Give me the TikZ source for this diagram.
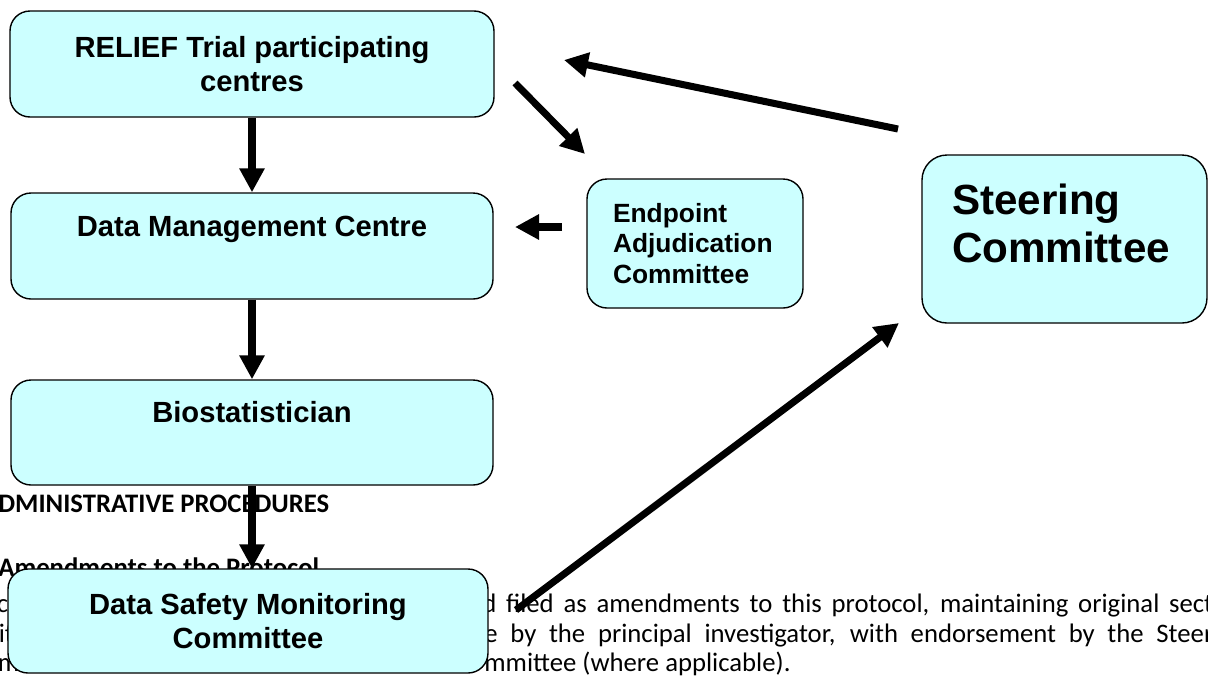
\documentclass[tikz,border=0pt]{standalone}
\usepackage{fontspec}
\setmainfont{Carlito}
\newfontfamily\boxfont{Liberation Sans}
\usetikzlibrary{arrows.meta}
\definecolor{boxcyan}{RGB}{204,255,255}

\begin{document}
\begin{tikzpicture}[
    box/.style={draw=black, line width=0.8pt, fill=boxcyan, rounded corners=0.4cm,
        inner sep=0pt, font=\boxfont\bfseries\fontsize{16.6}{19.4}\selectfont},
    flow/.style={line width=4pt, -{Triangle[length=0.48cm,width=0.48cm]}},
    doc/.style={inner sep=0pt, anchor=base west, font=\fontsize{15.2}{17}\selectfont}]
    %
    \useasboundingbox (0,0) rectangle (24.16,-13.5);
    \clip (0,0) rectangle (24.16,-13.5);
    %
    % page text behind the chart
    \node[doc, font=\bfseries\fontsize{15.2}{17}\selectfont] (tHeadA) at (-0.04,-10.25) {DMINISTRATIVE PROCEDURES};
    \node[doc, font=\bfseries\fontsize{15.2}{17}\selectfont] (tHeadB) at (-0.04,-11.52) {Amendments to the Protocol};
    \node[doc] (tLeftA) at (-0.07,-12.24) {c};
    \node[doc] (tLeftB) at (-0.03,-12.84) {it};
    \node[doc] (tLeftC) at (-0.05,-13.42) {m};
    \node[doc] (tLineA) at (9.64,-12.24) {\makebox[14.62cm][s]{d filed as amendments to this protocol, maintaining original sect}};
    \node[doc] (tLineB) at (9.68,-12.84) {\makebox[14.58cm][s]{e by the principal investigator, with endorsement by the Steer}};
    \node[doc] (tLineC) at (9.68,-13.42) {mmittee (where applicable).};
    %
    % boxes
    \node[box, minimum width=9.68cm, minimum height=2.12cm, align=center] (nRelief) at (5.04,-1.28)
        {RELIEF Trial participating\\centres};
    \node[box, minimum width=9.64cm, text height=0.87cm, text depth=1.25cm] (nDmc) at (5.04,-4.92)
        {Data Management Centre};
    \node[box, minimum width=9.64cm, text height=0.85cm, text depth=1.25cm] (nBio) at (5.04,-8.65)
        {Biostatistician};
    \node[box, minimum width=9.60cm, minimum height=2.08cm, align=center] (nDsmc) at (4.96,-12.42)
        {Data Safety Monitoring\\Committee};
    \node[box, text width=3.28cm, inner xsep=0.52cm, minimum height=2.58cm, align=left,
        font=\boxfont\bfseries\fontsize{15}{17.6}\selectfont] (nEac) at (13.90,-4.87)
        {Endpoint\\Adjudication\\Committee};
    \node[box, rounded corners=0.5cm, inner xsep=0.6cm, inner ysep=0.58cm,
        font=\boxfont\bfseries\fontsize{24}{27.3}\selectfont] (nSteer) at (21.29,-4.78)
        {\parbox[c][2.2cm][t]{4.5cm}{\raggedright Steering\\Committee}};
    %
    % free arrow ends
    \node[coordinate] (cEacOut)    at (11.24,-4.54) {};
    \node[coordinate] (cDmcIn)     at (10.30,-4.54) {};
    \node[coordinate] (cReliefOut) at (10.30,-1.66) {};
    \node[coordinate] (cEacIn)     at (11.70,-3.08) {};
    \node[coordinate] (cSteerOut)  at (17.96,-2.58) {};
    \node[coordinate] (cReliefIn)  at (11.28,-1.20) {};
    \node[coordinate] (cDsmcOut)   at (10.32,-12.20) {};
    \node[coordinate] (cSteerIn)   at (17.98,-6.46) {};
    %
    \draw[flow] (nRelief) -- (nDmc);
    \draw[flow] (nDmc) -- (nBio);
    \draw[flow] (nBio.south) -- (nBio.south |- nDsmc.north);
    \draw[flow] (cEacOut) -- (cDmcIn);
    \draw[flow] (cReliefOut) -- (cEacIn);
    \draw[flow] (cSteerOut) -- (cReliefIn);
    \draw[flow] (cDsmcOut) -- (cSteerIn);
\end{tikzpicture}
\end{document}
